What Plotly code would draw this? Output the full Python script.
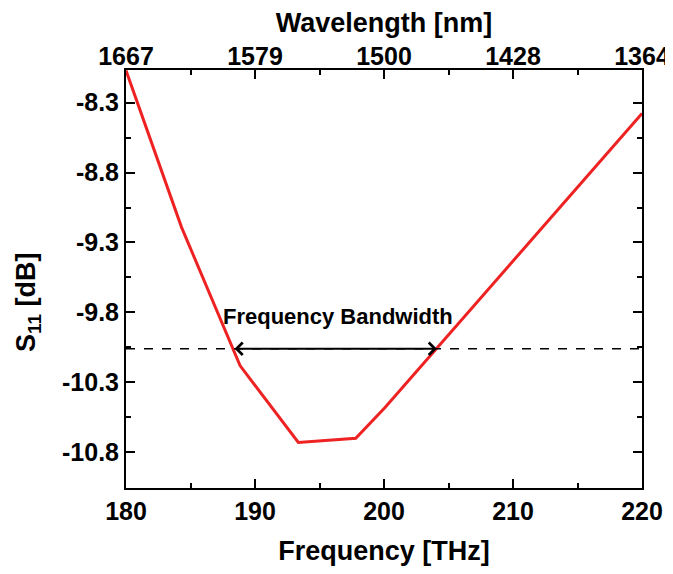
import plotly.graph_objects as go

# Data
freq_thz = [180.0, 184.3, 188.84, 193.36, 197.81, 200.08, 220.0]
s11_db = [-8.07, -9.19, -10.18, -10.73, -10.70, -10.48, -8.377]

bottom_tick_vals = [180, 190, 200, 210, 220]
bottom_tick_text = ["180", "190", "200", "210", "220"]
top_tick_text = ["1667", "1579", "1500", "1428", "1364"]
y_tick_vals = [-8.3, -8.8, -9.3, -9.8, -10.3, -10.8]
y_tick_text = ["-8.3", "-8.8", "-9.3", "-9.8", "-10.3", "-10.8"]

bw_level = -10.06
bw_start = 188.3
bw_end = 204.1

x_range = [180, 220]
y_range = [-11.055, -8.067]

FONT = "Liberation Sans, Arial, sans-serif"

fig = go.Figure()
fig.add_trace(go.Scatter(x=freq_thz, y=s11_db, mode="lines",
                         line=dict(color="#ee2222", width=3),
                         showlegend=False, hoverinfo="skip"))
# invisible trace to activate the top axis
fig.add_trace(go.Scatter(x=freq_thz, y=s11_db, xaxis="x2", mode="lines",
                         line=dict(width=0), opacity=0,
                         showlegend=False, hoverinfo="skip"))

# dashed level line
fig.add_trace(go.Scatter(x=x_range, y=[bw_level, bw_level], mode="lines",
                         line=dict(color="black", width=1.5, dash="dash"),
                         showlegend=False, hoverinfo="skip"))

tickfont = dict(family=FONT, size=25, color="black", weight="bold")
titlefont = dict(family=FONT, size=27, color="black", weight="bold")

axis_common = dict(showline=True, linecolor="black", linewidth=2,
                   ticks="inside", ticklen=9, tickwidth=2, tickcolor="black",
                   showgrid=False, zeroline=False, tickfont=tickfont,
                   automargin=False)

fig.update_layout(
    width=665, height=566,
    margin=dict(l=118, r=31, t=62, b=86),
    paper_bgcolor="white", plot_bgcolor="white",
    xaxis=dict(range=x_range, tickmode="array", tickvals=bottom_tick_vals,
               ticktext=bottom_tick_text,
               minor=dict(dtick=5, tick0=180, ticks="inside", ticklen=5,
                          tickwidth=2, tickcolor="black"),
               title=dict(text="Frequency [THz]", font=titlefont, standoff=17),
               **axis_common),
    xaxis2=dict(range=x_range, overlaying="x", side="top", anchor="y",
                tickmode="array", tickvals=bottom_tick_vals, ticktext=top_tick_text,
                ticklabelstandoff=-7,
                minor=dict(dtick=5, tick0=180, ticks="inside", ticklen=5,
                           tickwidth=2, tickcolor="black"),
                title=dict(text="Wavelength [nm]", font=titlefont, standoff=2),
                **axis_common),
    yaxis=dict(range=y_range, tickmode="array", tickvals=y_tick_vals,
               ticktext=y_tick_text, mirror="ticks",
               minor=dict(dtick=0.25, tick0=-8.3, ticks="inside", ticklen=5,
                          tickwidth=2, tickcolor="black"),
               **axis_common),
)

# y-axis title placed like the reference (below the axis centre)
fig.add_annotation(x=-0.19, y=0.445, xref="paper", yref="paper",
                   text="S<sub>11</sub> [dB]", textangle=-90, showarrow=False,
                   xanchor="center", yanchor="middle", font=titlefont)

# double-headed arrow
fig.add_annotation(x=bw_end, y=bw_level, ax=bw_start, ay=bw_level,
                   xref="x", yref="y", axref="x", ayref="y",
                   showarrow=True, arrowhead=4, startarrowhead=4,
                   arrowside="end+start", arrowsize=1.2, arrowwidth=2,
                   arrowcolor="black", text="")
fig.add_annotation(x=(bw_start + bw_end) / 2 + 0.2, y=bw_level, xref="x", yref="y",
                   text="Frequency Bandwidth", showarrow=False,
                   yshift=32, font=dict(family=FONT, size=22, color="black",
                                        weight="bold"))

fig.write_html("out.html")
